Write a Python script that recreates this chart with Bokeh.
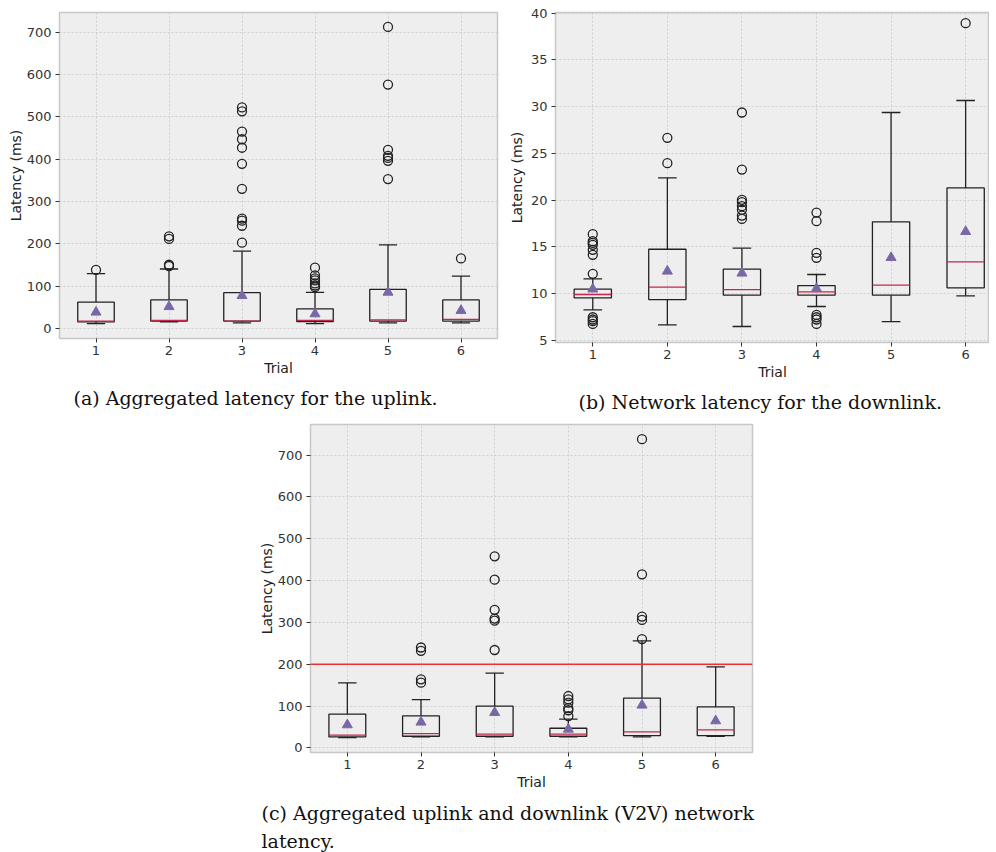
from bokeh.plotting import figure
from bokeh.models import Range1d, FixedTicker, Title, Span, Spacer, ColumnDataSource
from bokeh.layouts import column, row
from bokeh.embed import file_html
from bokeh.resources import INLINE

trials = [1, 2, 3, 4, 5, 6]
tick_labels = ["1", "2", "3", "4", "5", "6"]

# (a) Aggregated latency for the uplink
a_q1 = [16, 18, 18, 17, 18, 18]
a_med = [18, 19.6, 18, 19.6, 21, 22]
a_q3 = [63, 68, 85, 47, 93, 68]
a_wlo = [12, 16, 14, 12, 14, 14]
a_whi = [130, 141, 183, 86, 198, 124]
a_mean = [39, 52, 78, 35, 86, 43]
a_fliers = [
    [139],
    [148, 151, 212, 218],
    [203, 243, 255, 260, 330, 389, 427, 447, 465, 513, 522],
    [98, 102, 107, 114, 119, 126, 144],
    [353, 396, 403, 408, 422, 576, 712],
    [166],
]

# (b) Network latency for the downlink
b_q1 = [9.56, 9.38, 9.85, 9.85, 9.85, 10.63]
b_med = [9.92, 10.7, 10.45, 10.2, 10.92, 13.41]
b_q3 = [10.49, 14.76, 12.63, 10.88, 17.69, 21.32]
b_wlo = [8.28, 6.67, 6.5, 8.64, 7.03, 9.78]
b_whi = [11.59, 22.39, 14.87, 12.06, 29.38, 30.66]
b_mean = [10.5, 12.41, 12.2, 10.56, 13.87, 16.65]
b_fliers = [
    [6.78, 7.07, 7.25, 7.49, 12.13, 14.16, 14.7, 15.23, 15.44, 15.62, 16.37],
    [23.96, 26.67],
    [18.0, 18.36, 18.97, 19.36, 19.79, 20.04, 23.28, 29.38],
    [6.78, 7.25, 7.49, 7.74, 13.84, 14.37, 17.76, 18.68],
    [],
    [38.93],
]

# (c) Aggregated uplink and downlink (V2V) network latency
c_q1 = [26.3, 27.9, 27.9, 27.9, 29.5, 29.5]
c_med = [30.3, 34.3, 32.7, 32.7, 38.3, 43]
c_q3 = [80.5, 76.5, 99.7, 47, 118.8, 98]
c_wlo = [24.7, 26.3, 26.3, 26.3, 26.3, 27.9]
c_whi = [155.5, 115.6, 178.6, 68.6, 255.9, 193.7]
c_mean = [55, 61.4, 84.5, 44.6, 102, 64.6]
c_fliers = [
    [],
    [156, 164, 232, 240],
    [234, 304, 309, 330, 402, 458],
    [76, 90, 95, 108, 116, 124],
    [260, 306, 314, 415, 738],
    [],
]
c_threshold = 200

caption_a = "(a) Aggregated latency for the uplink."
caption_b = "(b) Network latency for the downlink."
caption_c = "(c) Aggregated uplink and downlink (V2V) network\nlatency."

MEDIAN_COLOR = "#C4274A"
MEAN_COLOR = "#7A68A6"
CAPTION_FONT = "DejaVu Serif"


def make_panel(q1, med, q3, wlo, whi, mean, fliers, yrange, yticks,
               frame_w, frame_h, bl, br, bt, bb, ylab_standoff):
    p = figure(output_backend="svg", toolbar_location=None,
               frame_width=frame_w, frame_height=frame_h,
               min_border_left=bl, min_border_right=br,
               min_border_top=bt, min_border_bottom=bb,
               x_range=Range1d(0.5, 6.5), y_range=Range1d(*yrange),
               background_fill_color="#eeeeee", border_fill_color="white")
    p.outline_line_color = "#c8c8c8"
    p.outline_line_width = 1.5
    p.grid.grid_line_color = "#c8c8c8"
    p.grid.grid_line_dash = "2 2"
    p.grid.grid_line_width = 0.8
    p.xaxis.ticker = FixedTicker(ticks=trials)
    p.xaxis.major_label_overrides = {t: l for t, l in zip(trials, tick_labels)}
    p.yaxis.ticker = FixedTicker(ticks=yticks)
    for ax in (p.xaxis[0], p.yaxis[0]):
        ax.axis_line_color = None
        ax.major_tick_in = 0
        ax.major_tick_out = 4
        ax.major_tick_line_color = "#333333"
        ax.minor_tick_line_color = None
        ax.major_label_text_font = "DejaVu Sans"
        ax.major_label_text_font_size = "13px"
        ax.major_label_text_color = "#333333"
        ax.axis_label_text_font = "DejaVu Sans"
        ax.axis_label_text_font_size = "14px"
        ax.axis_label_text_font_style = "normal"
        ax.axis_label_text_color = "#222222"
    p.xaxis.major_label_standoff = 3
    p.yaxis.major_label_standoff = 4
    p.xaxis.axis_label = "Trial"
    p.yaxis.axis_label = "Latency (ms)"
    p.xaxis.axis_label_standoff = 2
    p.yaxis.axis_label_standoff = ylab_standoff

    hw = 0.25
    cw = 0.125
    src = ColumnDataSource(dict(
        x=trials, left=[t - hw for t in trials], right=[t + hw for t in trials],
        cl=[t - cw for t in trials], cr=[t + cw for t in trials],
        q1=q1, med=med, q3=q3, wlo=wlo, whi=whi, mean=mean))
    p.segment(x0="x", y0="q3", x1="x", y1="whi", source=src, line_color="#222222", line_width=1.3)
    p.segment(x0="x", y0="wlo", x1="x", y1="q1", source=src, line_color="#222222", line_width=1.3)
    p.segment(x0="cl", y0="whi", x1="cr", y1="whi", source=src, line_color="#222222", line_width=1.3)
    p.segment(x0="cl", y0="wlo", x1="cr", y1="wlo", source=src, line_color="#222222", line_width=1.3)
    p.quad(left="left", right="right", bottom="q1", top="q3", source=src,
           fill_color=None, line_color="#222222", line_width=1.3)
    p.segment(x0="left", y0="med", x1="right", y1="med", source=src,
              line_color=MEDIAN_COLOR, line_width=1.3)
    fx, fy = [], []
    for t, fl in zip(trials, fliers):
        for v in fl:
            fx.append(t)
            fy.append(v)
    p.scatter(fx, fy, marker="circle", size=9, fill_color=None,
              line_color="#222222", line_width=1.3)
    p.scatter(x="x", y="mean", source=src, marker="triangle", size=10,
              fill_color=MEAN_COLOR, line_color=MEAN_COLOR)
    return p


def caption(p, text, offset, standoff, size="19px", lh=1.2):
    p.add_layout(Title(text=text, align="left", offset=offset, standoff=standoff,
                       text_font=CAPTION_FONT, text_font_size=size,
                       text_font_style="normal", text_color="#111111",
                       text_line_height=lh), "below")


pa = make_panel(a_q1, a_med, a_q3, a_wlo, a_whi, a_mean, a_fliers,
                (-23, 746), list(range(0, 701, 100)),
                438, 326, 59, 8, 12, 80, 0)
caption(pa, caption_a, 14, 12)

pb = make_panel(b_q1, b_med, b_q3, b_wlo, b_whi, b_mean, b_fliers,
                (4.79, 40.07), list(range(5, 41, 5)),
                434, 330, 49, 0, 12, 76, 3)
pb.x_range = Range1d(0.5, 6.32)
caption(pb, caption_b, 23, 12)

pc = make_panel(c_q1, c_med, c_q3, c_wlo, c_whi, c_mean, c_fliers,
                (-11, 773), list(range(0, 701, 100)),
                442, 328, 54, 10, 6, 100, 0)
pc.add_layout(Span(location=c_threshold, dimension="width",
                   line_color="#F03030", line_width=1.6))
caption(pc, caption_c, -49, 14, "19px", 1.3)

layout = column(row(pa, pb), row(Spacer(width=255, height=10), pc))

open("out.html", "w").write(file_html(layout, INLINE))
